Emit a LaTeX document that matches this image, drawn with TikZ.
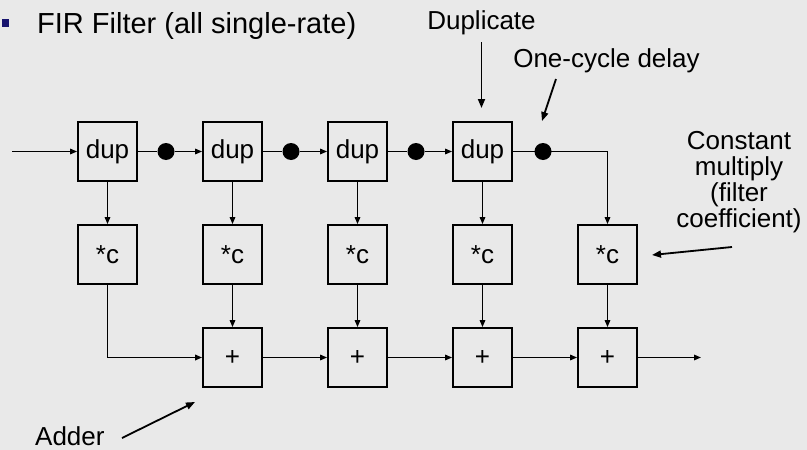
\documentclass[tikz,border=0pt]{standalone}
\usepackage{fontspec}
\setmainfont{Liberation Sans}
\usetikzlibrary{arrows.meta, positioning}

\definecolor{slidegray}{RGB}{233,233,233}
\definecolor{bulletblue}{RGB}{24,20,110}

\begin{document}
\begin{tikzpicture}[
    x=1pt, y=-1pt,
    box_style/.style={draw, line width=1.8pt, minimum size=59pt, inner sep=0pt, font=\fontsize{26}{26}\selectfont},
    dot_style/.style={circle, fill=black, minimum size=17pt, inner sep=0pt},
    flow_style/.style={-{Triangle[length=7pt, width=5.5pt]}, line width=1.5pt},
    wire_style/.style={line width=1.5pt},
    heavy_style/.style={line width=1.9pt},
    note_style/.style={-{Triangle[length=9pt, width=7pt]}, line width=1.8pt},
    label_style/.style={font=\fontsize{26}{26}\selectfont, inner sep=0pt}
]

    % Slide background
    \fill[slidegray] (0,0) rectangle (807,450);
    \useasboundingbox (0,0) rectangle (807,450);

    % Heading
    \node[fill=bulletblue, minimum width=7pt, minimum height=8pt, inner sep=0pt] (bullet) at (5.5,22.5) {};
    \node[anchor=base west, inner sep=0pt, font=\fontsize{29}{29}\selectfont] (title) at (37,33) {FIR Filter (all single-rate)};

    % Duplicators
    \node[box_style] (dup1) at (107.5,151.5) {dup};
    \node[box_style] (dup2) at (232.5,151.5) {dup};
    \node[box_style] (dup3) at (357.5,151.5) {dup};
    \node[box_style] (dup4) at (482.5,151.5) {dup};

    % Delays
    \node[dot_style] (dot1) at (166,151.5) {};
    \node[dot_style] (dot2) at (291,151.5) {};
    \node[dot_style] (dot3) at (416,151.5) {};
    \node[dot_style] (dot4) at (543,151.5) {};

    % Coefficient multipliers
    \node[box_style] (mul1) at (107.5,254.5) {*c};
    \node[box_style] (mul2) at (232.5,254.5) {*c};
    \node[box_style] (mul3) at (357.5,254.5) {*c};
    \node[box_style] (mul4) at (482.5,254.5) {*c};
    \node[box_style] (mul5) at (607.5,254.5) {*c};

    % Adders
    \node[box_style] (add1) at (232.5,357.5) {+};
    \node[box_style] (add2) at (357.5,357.5) {+};
    \node[box_style] (add3) at (482.5,357.5) {+};
    \node[box_style] (add4) at (607.5,357.5) {+};

    \coordinate (in) at (12,151.5);
    \coordinate (corner) at (607.5,151.5);
    \coordinate (out) at (701,357.5);

    % Delay line
    \draw[flow_style] (in) -- (dup1);
    \draw[wire_style] (dup1) -- (dot1);
    \draw[flow_style] (dot1) -- (dup2);
    \draw[wire_style] (dup2) -- (dot2);
    \draw[flow_style] (dot2) -- (dup3);
    \draw[wire_style] (dup3) -- (dot3);
    \draw[flow_style] (dot3) -- (dup4);
    \draw[heavy_style] (dup4) -- (dot4.center) -- (corner);
    \draw[flow_style] (corner) -- (mul5);

    % Taps
    \draw[flow_style] (dup1) -- (mul1);
    \draw[flow_style] (dup2) -- (mul2);
    \draw[flow_style] (dup3) -- (mul3);
    \draw[flow_style] (dup4) -- (mul4);

    % Summation chain
    \draw[flow_style, line width=1.9pt] (mul1) |- (add1);
    \draw[flow_style] (mul2) -- (add1);
    \draw[flow_style] (mul3) -- (add2);
    \draw[flow_style] (mul4) -- (add3);
    \draw[flow_style] (mul5) -- (add4);
    \draw[flow_style] (add1) -- (add2);
    \draw[flow_style] (add2) -- (add3);
    \draw[flow_style] (add3) -- (add4);
    \draw[flow_style] (add4) -- (out);

    % Annotations
    \node[label_style, anchor=base] (dup_label) at (481.5,29.5) {Duplicate};
    \coordinate (dup_tail) at (481.5,42);
    \coordinate (dup_tip) at (481.5,108);
    \draw[note_style] (dup_tail) -- (dup_tip);

    \node[label_style, anchor=base] (delay_label) at (606.5,67) {One-cycle delay};
    \coordinate (delay_tail) at (556,79);
    \coordinate (delay_tip) at (542,121);
    \draw[note_style] (delay_tail) -- (delay_tip);

    \node[label_style, anchor=north, align=center] (coef_label) at (739,131) {Constant\\multiply\\(filter\\coefficient)};
    \coordinate (coef_tail) at (732,247);
    \coordinate (coef_tip) at (652,255);
    \draw[note_style] (coef_tail) -- (coef_tip);

    \node[label_style, anchor=base west] (add_label) at (35,445) {Adder};
    \coordinate (add_tail) at (122,438);
    \coordinate (add_tip) at (195,402);
    \draw[note_style] (add_tail) -- (add_tip);

\end{tikzpicture}
\end{document}
